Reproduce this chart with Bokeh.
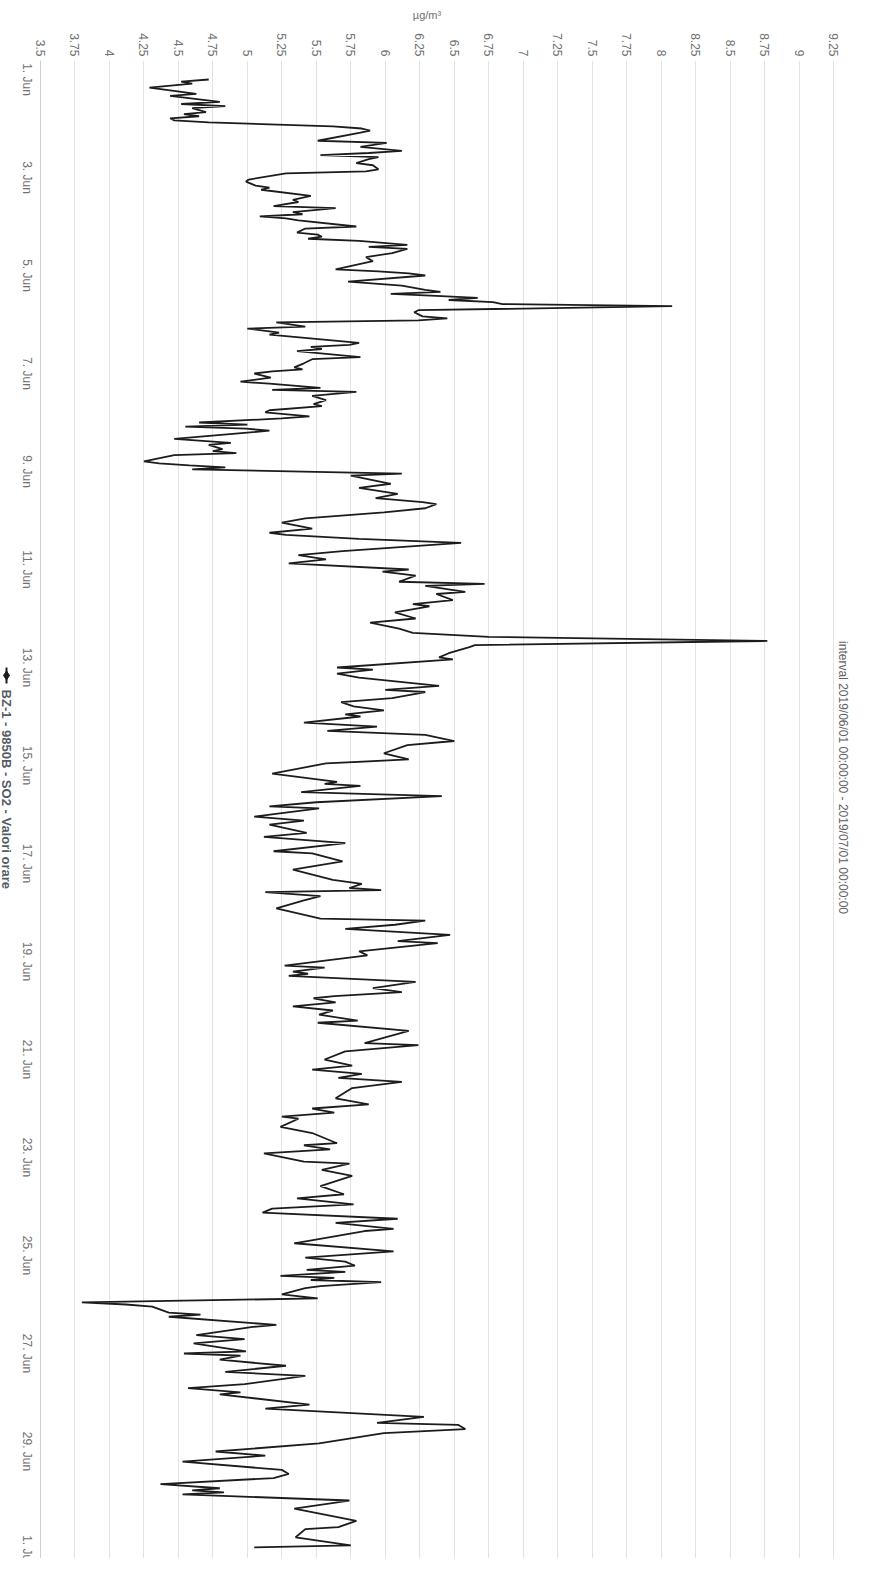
import math
from bokeh.plotting import figure
from bokeh.models import Range1d, FixedTicker, CustomJSTickFormatter, Span
from bokeh.core.properties import value
from bokeh.embed import file_html
from bokeh.resources import INLINE

# hours since 2019/06/01 00:00 and hourly SO2 values (µg/m³)
hours = [0, 1, 2, 4, 7, 8, 11, 12, 13, 14, 16, 17, 18, 19, 20, 21, 23, 24, 25, 26,
         30, 31, 33, 35, 36, 37, 38, 39, 41, 42, 44, 45, 46, 49, 50, 52, 53, 54, 57, 59,
         60, 62, 63, 65, 66, 67, 68, 69, 72, 73, 75, 76, 77, 78, 79, 81, 82, 83, 85, 87,
         89, 93, 94, 95, 96, 99, 101, 103, 104, 105, 106, 107, 108, 109, 110, 111, 113, 114, 116, 117,
         118, 119, 121, 122, 124, 125, 129, 130, 131, 132, 133, 136, 137, 139, 141, 142, 143, 144, 146, 148,
         149, 151, 152, 153, 155, 157, 159, 160, 162, 163, 165, 166, 168, 169, 170, 171, 172, 176, 178, 179,
         181, 182, 183, 184, 187, 188, 189, 190, 191, 193, 194, 198, 200, 203, 205, 207, 208, 210, 212, 215,
         217, 220, 222, 223, 225, 227, 231, 233, 235, 237, 240, 241, 243, 246, 247, 248, 251, 252, 255, 257,
         258, 261, 264, 266, 269, 271, 273, 275, 277, 278, 281, 283, 284, 288, 289, 291, 293, 297, 299, 300,
         303, 305, 307, 309, 311, 312, 315, 317, 319, 321, 324, 326, 330, 333, 335, 340, 344, 345, 346, 349,
         351, 354, 356, 357, 361, 363, 365, 369, 371, 374, 378, 379, 383, 387, 392, 394, 396, 397, 398, 400,
         402, 406, 411, 412, 414, 416, 419, 422, 423, 427, 429, 434, 435, 437, 438, 439, 442, 445, 447, 449,
         450, 452, 454, 456, 458, 461, 462, 466, 472, 473, 476, 480, 483, 485, 487, 489, 491, 494, 499, 502,
         504, 506, 508, 509, 513, 516, 521, 522, 524, 526, 530, 531, 534, 537, 542, 546, 548, 551, 553, 555,
         558, 560, 563, 564, 570, 574, 577, 579, 581, 583, 584, 586, 587, 588, 589, 591, 592, 595, 597, 599,
         600, 601, 604, 605, 606, 610, 611, 615, 617, 619, 623, 624, 625, 627, 630, 633, 635, 639, 641, 643,
         644, 649, 651, 655, 658, 659, 661, 663, 668, 672, 674, 677, 681, 683, 685, 688, 690, 691, 692, 693,
         696, 700, 703, 706, 709, 710, 714, 718, 719]
so2 = [4.72, 4.52, 4.60, 4.29, 4.63, 4.44, 4.80, 4.52, 4.84, 4.60, 4.70, 4.54, 4.65, 4.44, 4.47, 4.72, 5.62, 5.83, 5.89, 5.82,
       5.51, 6.01, 5.82, 6.12, 5.88, 5.53, 5.95, 5.88, 5.79, 5.91, 5.95, 5.86, 5.28, 5.01, 4.99, 5.06, 5.16, 5.10, 5.46, 5.33,
       5.37, 5.19, 5.64, 5.33, 5.40, 5.09, 5.28, 5.37, 5.79, 5.42, 5.36, 5.51, 5.54, 5.44, 5.81, 6.16, 5.88, 6.16, 6.05, 5.86,
       5.91, 5.64, 5.95, 6.17, 6.29, 5.73, 6.12, 6.29, 6.40, 6.04, 6.37, 6.67, 6.46, 6.78, 6.85, 8.08, 6.24, 6.21, 6.27, 6.45,
       6.24, 5.21, 5.42, 5.00, 5.23, 5.16, 5.81, 5.74, 5.46, 5.54, 5.36, 5.82, 5.47, 5.41, 5.34, 5.40, 5.18, 5.05, 5.17, 4.95,
       5.16, 5.53, 5.18, 5.79, 5.47, 5.57, 5.48, 5.54, 5.16, 5.13, 5.45, 5.25, 4.65, 5.00, 4.55, 4.99, 5.16, 4.47, 4.88, 4.72,
       4.82, 4.75, 4.92, 4.47, 4.25, 4.36, 4.58, 4.84, 4.60, 6.12, 5.75, 6.04, 5.81, 6.09, 5.93, 6.27, 6.37, 6.29, 5.99, 5.42,
       5.25, 5.47, 5.16, 5.28, 5.81, 6.55, 5.69, 5.37, 5.57, 5.30, 6.17, 5.98, 6.22, 6.10, 6.72, 6.29, 6.58, 6.37, 6.49, 6.20,
       6.32, 6.07, 6.22, 5.89, 6.10, 6.20, 6.75, 8.77, 6.65, 6.61, 6.46, 6.39, 6.49, 5.65, 5.91, 5.65, 5.81, 6.39, 6.00, 6.29,
       6.05, 5.68, 5.77, 5.99, 5.71, 5.82, 5.41, 5.94, 5.58, 6.29, 6.50, 6.16, 5.99, 6.17, 5.57, 5.18, 5.65, 5.56, 5.82, 5.39,
       6.41, 5.50, 5.16, 5.52, 5.05, 5.41, 5.16, 5.43, 5.12, 5.71, 5.19, 5.47, 5.69, 5.33, 5.62, 5.83, 5.74, 5.97, 5.13, 5.53,
       5.41, 5.21, 5.53, 6.29, 6.07, 5.71, 6.47, 6.09, 6.38, 5.81, 5.87, 5.27, 5.56, 5.33, 5.44, 5.30, 6.22, 5.91, 6.12, 5.63,
       5.48, 5.64, 5.33, 5.62, 5.52, 5.80, 5.51, 6.17, 5.85, 6.24, 5.71, 5.56, 5.76, 5.47, 5.83, 5.66, 6.12, 5.76, 5.64, 5.88,
       5.47, 5.63, 5.25, 5.37, 5.24, 5.47, 5.65, 5.41, 5.60, 5.12, 5.41, 5.74, 5.54, 5.76, 5.53, 5.70, 5.36, 5.77, 5.18, 5.11,
       6.09, 5.64, 6.06, 5.85, 5.34, 6.06, 5.42, 5.71, 5.78, 5.43, 5.71, 5.24, 5.63, 5.46, 5.97, 5.53, 5.42, 5.25, 5.51, 3.80,
       4.12, 4.31, 4.43, 4.66, 4.43, 5.21, 5.04, 4.63, 4.98, 4.61, 4.99, 4.54, 4.95, 4.80, 5.28, 4.84, 5.42, 4.98, 4.57, 4.95,
       4.80, 5.45, 5.13, 6.28, 5.94, 6.53, 6.58, 5.99, 5.52, 4.77, 5.13, 4.53, 5.25, 5.30, 5.19, 4.37, 4.80, 4.60, 4.83, 4.53,
       5.74, 5.34, 5.57, 5.79, 5.66, 5.42, 5.35, 5.75, 5.05]

value_ticks = [3.5, 3.75, 4, 4.25, 4.5, 4.75, 5, 5.25, 5.5, 5.75, 6, 6.25, 6.5, 6.75,
               7, 7.25, 7.5, 7.75, 8, 8.25, 8.5, 8.75, 9, 9.25]
date_tick_hours = [0, 48, 96, 144, 192, 240, 288, 336, 384, 432, 480, 528, 576, 624, 672, 720]
date_labels = ["1. Jun", "3. Jun", "5. Jun", "7. Jun", "9. Jun", "11. Jun", "13. Jun", "15. Jun",
               "17. Jun", "19. Jun", "21. Jun", "23. Jun", "25. Jun", "27. Jun", "29. Jun", "1. Jul"]
title_text = "interval 2019/06/01 00:00:00 - 2019/07/01 00:00:00"
unit_text = "µg/m³"
legend_text = "BZ-1 - 9850B - SO2 - Valori orare"

FONT = "Liberation Sans"
LABEL_COLOR = "#707070"
LINE_COLOR = "#1c1c1c"
ROT = -math.pi / 2          # every text of the scan reads top to bottom

# layout positions (value units across, hours down)
X_DATE_LABELS = 3.4057
X_LEGEND = 3.2535
X_TITLE = 9.3153
Y_TITLE = 341.9
Y_LEGEND_SYMBOL = 291.9
LEGEND_SYMBOL_HALF = 3.9
Y_LEGEND_TEXT = 298.8

p = figure(width=853, height=1558,
           x_range=Range1d(3.20996, 9.39502), y_range=Range1d(724.4, -9.31),
           x_axis_location="above", y_axis_location=None,
           output_backend="svg", toolbar_location=None,
           min_border_left=0, min_border_right=0, min_border_top=60, min_border_bottom=0)
p.outline_line_color = None
p.background_fill_color = "white"
p.border_fill_color = "white"

xa = p.xaxis[0]
xa.ticker = FixedTicker(ticks=value_ticks)
xa.formatter = CustomJSTickFormatter(code="return String(Math.round(tick*100)/100)")
xa.major_label_orientation = ROT
xa.axis_line_color = None
xa.major_tick_line_color = None
xa.minor_tick_line_color = None
xa.major_tick_out = 0
xa.major_label_standoff = 4
xa.major_label_text_font = FONT
xa.major_label_text_font_size = "12px"
xa.major_label_text_color = LABEL_COLOR
xa.axis_label = unit_text
xa.axis_label_text_font = FONT
xa.axis_label_text_font_style = "normal"
xa.axis_label_text_font_size = "11px"
xa.axis_label_text_color = LABEL_COLOR
xa.axis_label_standoff = 9

p.xgrid.ticker = xa.ticker
p.xgrid.grid_line_color = "#e2e2e2"
p.ygrid.visible = False

# time axis line at the lowest value
p.add_layout(Span(location=value_ticks[0], dimension="height", line_color="#cfcfcf", line_width=1))

# time axis labels
p.text(x=[X_DATE_LABELS] * len(date_labels), y=date_tick_hours, text=date_labels, angle=ROT,
       text_align="center", text_baseline="middle", text_font=value(FONT),
       text_font_size=value("12px"), text_color=LABEL_COLOR)

# the series
p.line(so2, hours, line_color=LINE_COLOR, line_width=1.8)

# legend: line-with-diamond symbol and series name
p.segment(x0=[X_LEGEND], y0=[Y_LEGEND_SYMBOL - LEGEND_SYMBOL_HALF],
          x1=[X_LEGEND], y1=[Y_LEGEND_SYMBOL + LEGEND_SYMBOL_HALF],
          line_color=LINE_COLOR, line_width=2)
p.scatter(x=[X_LEGEND], y=[Y_LEGEND_SYMBOL], marker="diamond", size=9,
          fill_color=LINE_COLOR, line_color=LINE_COLOR)
p.text(x=[X_LEGEND], y=[Y_LEGEND_TEXT], text=[legend_text], angle=ROT,
       text_align="left", text_baseline="middle", text_font=value(FONT),
       text_font_size=value("13px"), text_font_style="bold", text_color="#555a66")

# title (subtitle line of the original chart)
p.text(x=[X_TITLE], y=[Y_TITLE], text=[title_text], angle=ROT,
       text_align="center", text_baseline="middle", text_font=value(FONT),
       text_font_size=value("12px"), text_color="#606060")

open("out.html", "w").write(file_html(p, INLINE))
